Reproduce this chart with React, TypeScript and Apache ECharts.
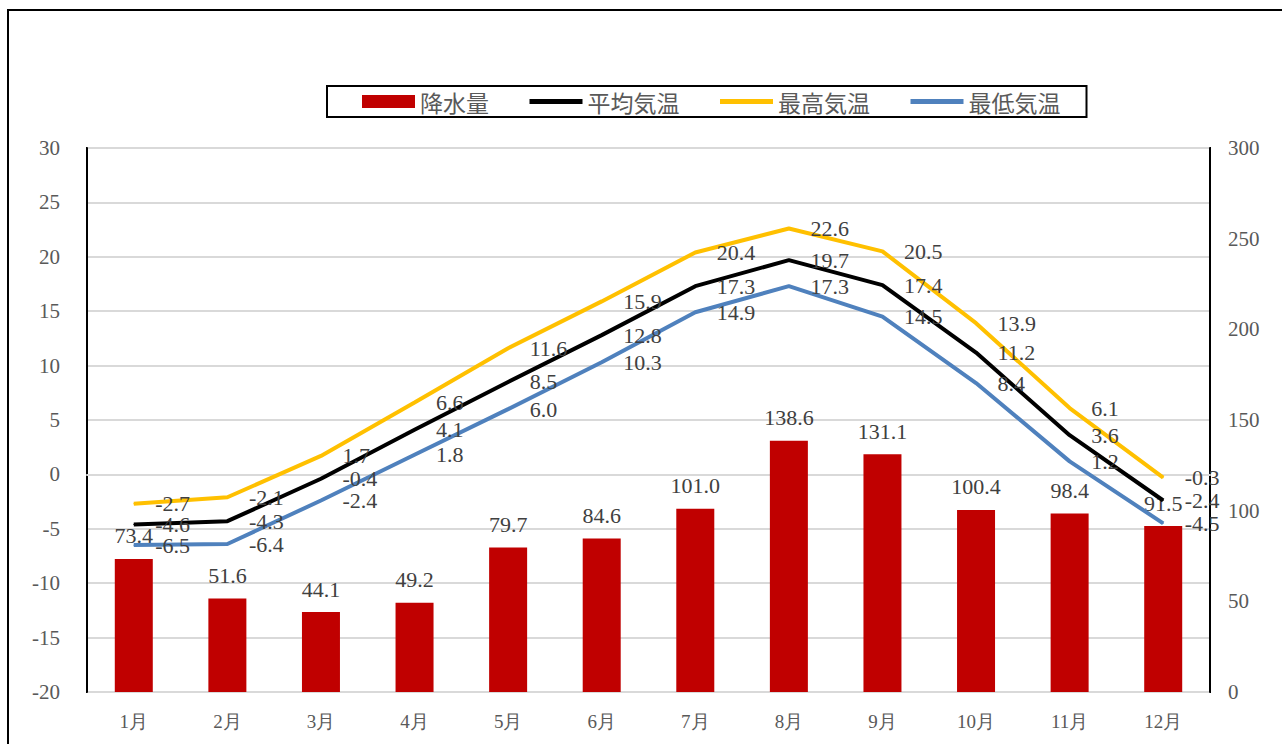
import React, { useEffect, useRef } from "react";
import * as echarts from "echarts";

const months = ["1月", "2月", "3月", "4月", "5月", "6月", "7月", "8月", "9月", "10月", "11月", "12月"];
const precipitation = [73.4, 51.6, 44.1, 49.2, 79.7, 84.6, 101.0, 138.6, 131.1, 100.4, 98.4, 91.5];
const avgTemp = [-4.6, -4.3, -0.4, 4.1, 8.5, 12.8, 17.3, 19.7, 17.4, 11.2, 3.6, -2.4];
const maxTemp = [-2.7, -2.1, 1.7, 6.6, 11.6, 15.9, 20.4, 22.6, 20.5, 13.9, 6.1, -0.3];
const minTemp = [-6.5, -6.4, -2.4, 1.8, 6.0, 10.3, 14.9, 17.3, 14.5, 8.4, 1.2, -4.5];

const seriesNames = ["降水量", "平均気温", "最高気温", "最低気温"];

export default function App() {
  const ref = useRef<HTMLDivElement>(null);
  useEffect(() => {
    const chart = echarts.init(ref.current!, null, { renderer: "svg" });
    const serif = "Liberation Serif";
    const fmt = (p: any) => Number(p.value).toFixed(1);
    const lineLabel = {
      show: true,
      position: "right",
      distance: 21,
      color: "#404040",
      fontSize: 22,
      fontFamily: serif,
      formatter: fmt,
    };
    const mkLine = (name: string, data: number[], color: string) => ({
      name,
      type: "line",
      data,
      yAxisIndex: 0,
      symbol: "circle",
      symbolSize: 1,
      itemStyle: { color },
      lineStyle: { color, width: 4 },
      label: lineLabel,
      z: 3,
    });
    chart.setOption({
      animation: false,
      backgroundColor: "#fff",
      graphic: [
        {
          type: "rect",
          shape: { x: 8, y: 10, width: 1400, height: 1000 },
          style: { fill: "none", stroke: "#000", lineWidth: 2 },
          silent: true,
        },
      ],
      legend: {
        left: 327,
        top: 86,
        itemWidth: 53,
        itemHeight: 13,
        itemGap: 38,
        padding: [4, 26, 4, 35],
        borderColor: "#000",
        borderWidth: 2,
        backgroundColor: "#fff",
        textStyle: { fontSize: 23, color: "#595959", fontFamily: "Noto Sans CJK JP" },
        data: [
          { name: seriesNames[0], icon: "rect" },
          { name: seriesNames[1], itemStyle: { opacity: 0 }, lineStyle: { width: 5 } },
          { name: seriesNames[2], itemStyle: { opacity: 0 }, lineStyle: { width: 5 } },
          { name: seriesNames[3], itemStyle: { opacity: 0 }, lineStyle: { width: 5 } },
        ],
      },
      grid: {
        left: 87,
        right: 72,
        top: 148,
        bottom: 52,
        show: true,
        borderColor: "#000",
        borderWidth: 2,
        backgroundColor: "transparent",
      },
      xAxis: {
        type: "category",
        data: months,
        axisLine: { lineStyle: { color: "#d9d9d9", width: 2 } },
        axisTick: { show: false },
        axisLabel: { color: "#595959", fontSize: 19, fontFamily: serif, margin: 20 },
      },
      yAxis: [
        {
          type: "value",
          min: -20,
          max: 30,
          interval: 5,
          axisLine: { show: true, lineStyle: { color: "#000", width: 2 } },
          axisTick: { show: false },
          axisLabel: { color: "#595959", fontSize: 21, fontFamily: serif, margin: 27 },
          splitLine: { lineStyle: { color: "#d9d9d9", width: 2 } },
        },
        {
          type: "value",
          min: 0,
          max: 300,
          interval: 50,
          position: "right",
          axisLine: { show: true, lineStyle: { color: "#000", width: 2 } },
          axisTick: { show: false },
          axisLabel: { color: "#595959", fontSize: 21, fontFamily: serif, margin: 18 },
          splitLine: { show: false },
        },
      ],
      series: [
        {
          name: seriesNames[0],
          type: "bar",
          data: precipitation,
          yAxisIndex: 1,
          barWidth: 38,
          itemStyle: { color: "#c00000" },
          label: {
            show: true,
            position: "top",
            distance: 12,
            color: "#404040",
            fontSize: 22,
            fontFamily: serif,
            formatter: fmt,
          },
          z: 2,
        },
        mkLine(seriesNames[1], avgTemp, "#000000"),
        mkLine(seriesNames[2], maxTemp, "#ffc000"),
        mkLine(seriesNames[3], minTemp, "#4f81bd"),
      ],
    });
    return () => chart.dispose();
  }, []);
  return (
    <div
      ref={ref}
      style={{ position: "fixed", left: 0, top: 0, width: 1282, height: 744, background: "#fff" }}
    />
  );
}
